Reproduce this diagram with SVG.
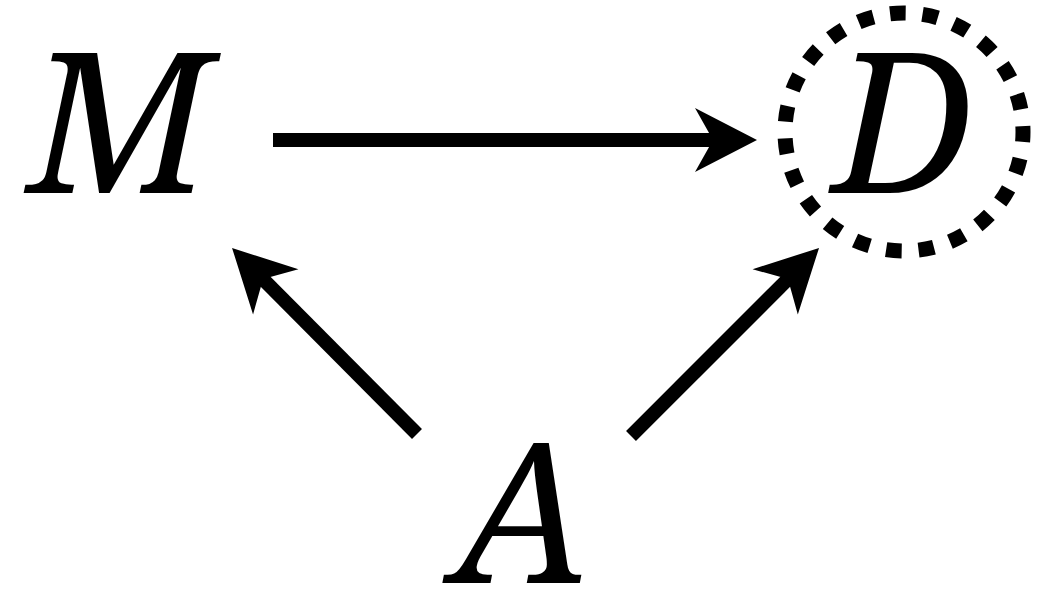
<svg xmlns="http://www.w3.org/2000/svg" width="1051" height="606" viewBox="0 0 1051 606">
<style>
.lbl{font-family:"Noto Serif","DejaVu Serif",serif;font-style:italic;font-size:195px;fill:#000;text-anchor:middle}
.edge{stroke:#000;stroke-width:14;fill:none;stroke-linecap:butt;marker-end:url(#ah)}
.ring{fill:none;stroke:#000;stroke-width:15;stroke-dasharray:4.8 5.2;stroke-dashoffset:2.4}
</style>
<defs>
<marker id="ah" markerUnits="userSpaceOnUse" viewBox="0 -32 62 64" markerWidth="62" markerHeight="64" refX="30" refY="0" orient="auto" overflow="visible">
<path d="M0,-32 L62,0 L0,32 L18,0 Z" fill="#000"/>
</marker>
</defs>
<rect width="1051" height="606" fill="#fff"/>
<g id="connectors">
<line class="edge" x1="273" y1="140" x2="725" y2="140"/>
<line class="edge" x1="417" y1="434" x2="254.6" y2="270.6"/>
<line class="edge" x1="631" y1="436" x2="796.4" y2="270.6"/>
</g>
<g id="node-M"><text class="lbl" x="119" y="193">M</text></g>
<g id="node-D">
<circle class="ring" cx="904" cy="132" r="119" pathLength="230" transform="rotate(-46 904 132)"/>
<text class="lbl" x="903" y="193">D</text>
</g>
<g id="node-A"><text class="lbl" x="522" y="583">A</text></g>
</svg>
